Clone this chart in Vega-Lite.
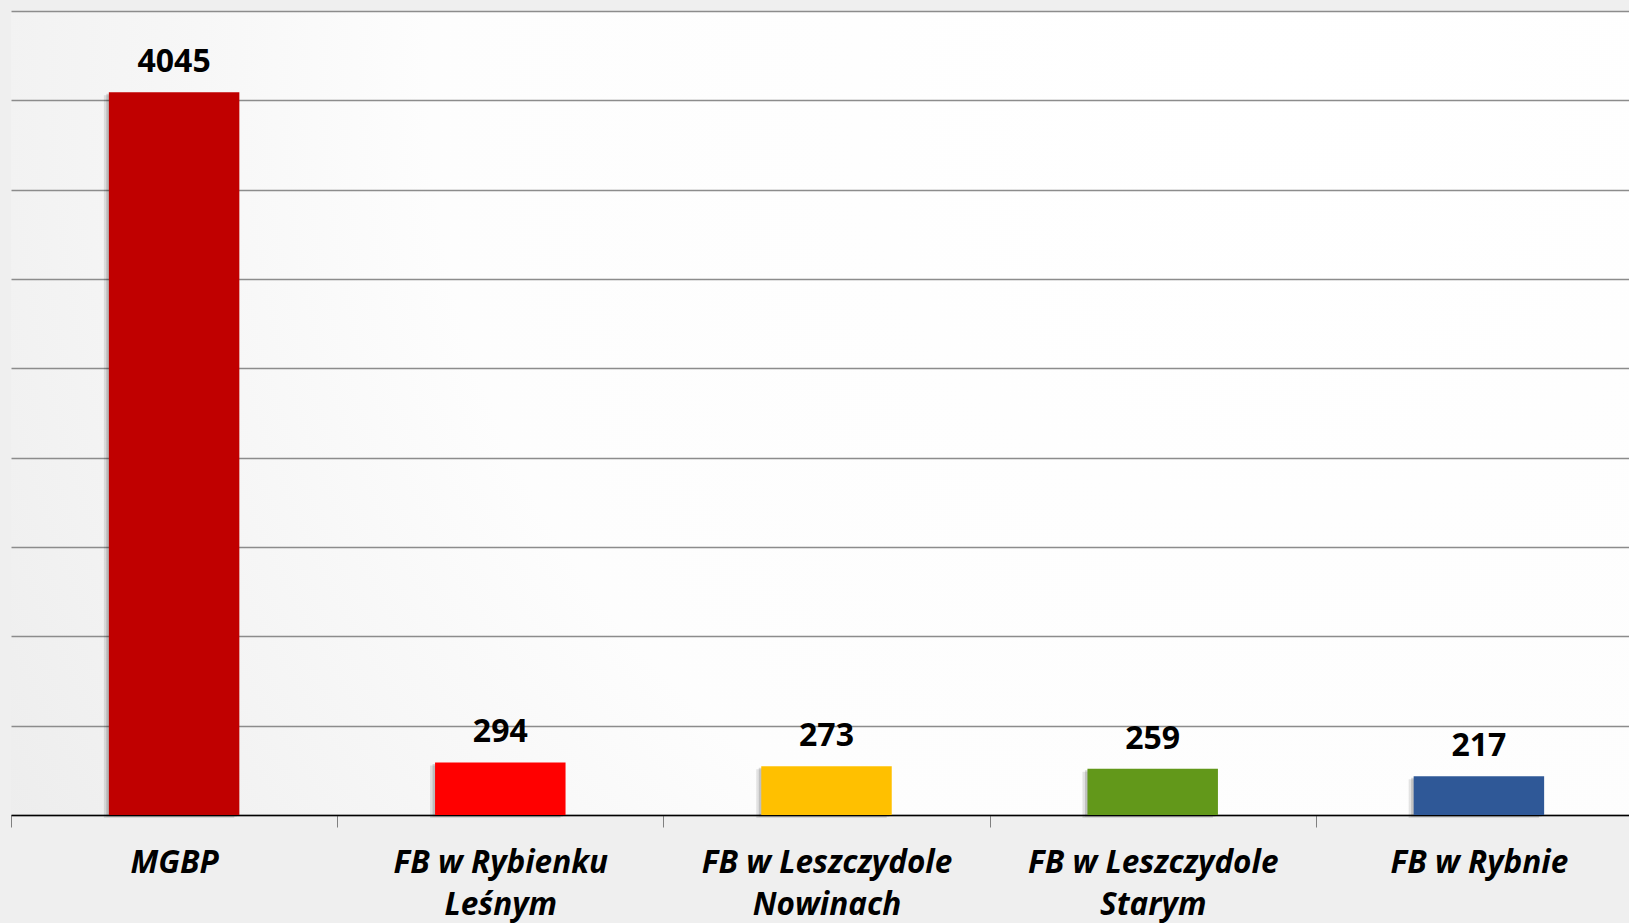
{
  "$schema": "https://vega.github.io/schema/vega-lite/v6.json",
  "autosize": {"type": "none"},
  "width": 1631,
  "height": 804,
  "padding": {"left": 11, "top": 11, "right": -13, "bottom": 108},
  "background": "#efefef",
  "config": {
    "view": {
      "stroke": null,
      "fill": {
        "gradient": "radial",
        "x1": 0.78, "y1": 0.3, "x2": 0.78, "y2": 0.3,
        "r1": 0, "r2": 0.95,
        "stops": [
          {"offset": 0, "color": "#ffffff"},
          {"offset": 0.55, "color": "#fdfdfd"},
          {"offset": 1, "color": "#ebebeb"}
        ]
      }
    }
  },
  "data": {
    "values": [
      {"placowka": "MGBP", "wartosc": 4045, "kolor": "#C00000"},
      {"placowka": "FB w Rybienku Leśnym", "wartosc": 294, "kolor": "#FF0000"},
      {"placowka": "FB w Leszczydole Nowinach", "wartosc": 273, "kolor": "#FFC000"},
      {"placowka": "FB w Leszczydole Starym", "wartosc": 259, "kolor": "#62981A"},
      {"placowka": "FB w Rybnie", "wartosc": 217, "kolor": "#2F5897"}
    ]
  },
  "encoding": {
    "x": {
      "field": "placowka",
      "type": "nominal",
      "sort": null,
      "scale": {"paddingInner": 0.6, "paddingOuter": 0.3},
      "axis": {
        "title": null,
        "labelAngle": 0,
        "labelFont": "Open Sans",
        "labelFontSize": 31.5,
        "labelFontWeight": "bold",
        "labelFontStyle": "italic",
        "labelColor": "#000000",
        "labelBaseline": "top",
        "labelLineHeight": 42.5,
        "labelPadding": 20,
        "labelLimit": 0,
        "labelExpr": "length(datum.label) > 12 ? [substring(datum.label, 0, lastindexof(datum.label, ' ')), substring(datum.label, lastindexof(datum.label, ' ') + 1)] : datum.label",
        "tickOffset": -163.1,
        "labelOffset": 163.1,
        "tickSize": 12,
        "tickColor": "#808080",
        "tickWidth": 1,
        "domainColor": "#000000",
        "domainWidth": 1.3,
        "grid": false
      }
    },
    "y": {
      "field": "wartosc",
      "type": "quantitative",
      "scale": {"domain": [0, 4500], "nice": false},
      "axis": {
        "title": null,
        "labels": false,
        "ticks": false,
        "domain": false,
        "grid": true,
        "gridColor": "#8c8c8c",
        "gridWidth": 1.5,
        "values": [0, 500, 1000, 1500, 2000, 2500, 3000, 3500, 4000, 4500]
      }
    }
  },
  "layer": [
    {
      "mark": {"type": "bar", "color": "#000000", "opacity": 0.1, "xOffset": -5, "yOffset": 3}
    },
    {
      "mark": {"type": "bar", "color": "#000000", "opacity": 0.15, "xOffset": -2.5, "yOffset": 1.5}
    },
    {
      "mark": {"type": "bar"},
      "encoding": {
        "color": {"field": "kolor", "type": "nominal", "scale": null}
      }
    },
    {
      "mark": {"type": "text", "font": "Open Sans", "fontSize": 32, "fontWeight": "bold", "baseline": "alphabetic", "dy": -20, "color": "#000000"},
      "encoding": {
        "text": {"field": "wartosc", "type": "quantitative"}
      }
    }
  ]
}
